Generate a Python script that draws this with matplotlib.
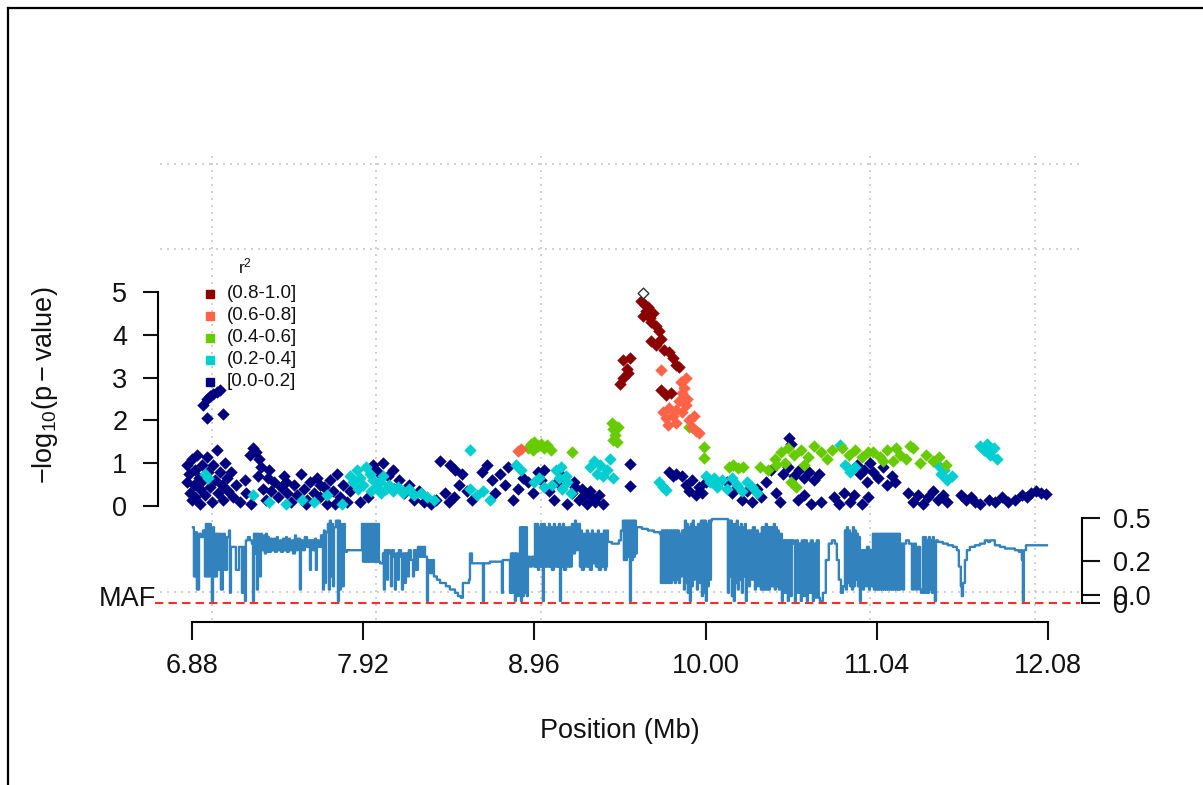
import matplotlib
matplotlib.use("Agg")
import matplotlib.pyplot as plt
from matplotlib.lines import Line2D
import numpy as np

W, H = 1203, 785

# r2 classes
r2_labels = ["(0.8-1.0]", "(0.6-0.8]", "(0.4-0.6]", "(0.2-0.4]", "[0.0-0.2]"]
r2_colors = ["#8B0000", "#FF6347", "#66CC00", "#00CED1", "#000080"]

# (position Mb, -log10 p) per r2 class
snp_navy = [
    (6.85, 0.95), (6.85, 0.55), (6.86, 0.75), (6.87, 0.30), (6.88, 1.10), (6.88, 0.15), (6.89, 0.50),
    (6.90, 0.85), (6.90, 0.20), (6.91, 1.20), (6.92, 0.65), (6.93, 0.40), (6.93, 0.05), (6.94, 0.95),
    (6.95, 0.60), (6.96, 0.25), (6.97, 1.15), (6.98, 0.80), (6.99, 0.45), (7.00, 0.10), (7.01, 0.95),
    (7.02, 0.60), (7.03, 1.30), (7.04, 0.30), (7.05, 0.80), (7.06, 0.50), (7.07, 0.15), (7.08, 1.00),
    (7.09, 0.65), (7.10, 0.35), (7.12, 0.80), (7.13, 0.20), (7.15, 0.50), (7.17, 0.10),
    (6.95, 2.35), (6.97, 2.50), (6.99, 2.58), (7.01, 2.62), (7.03, 2.66), (7.05, 2.70), (6.97, 2.05),
    (7.07, 2.15),
    (7.20, 0.60), (7.21, 0.30), (7.23, 1.20), (7.25, 1.35), (7.27, 1.25), (7.29, 1.10), (7.28, 0.70),
    (7.30, 0.90), (7.31, 0.40), (7.33, 0.15), (7.34, 0.65), (7.36, 0.35), (7.38, 0.55), (7.40, 0.20),
    (7.42, 0.45), (7.44, 0.70), (7.46, 0.30), (7.48, 0.10), (7.50, 0.50), (7.52, 0.25), (7.54, 0.75),
    (7.56, 0.40), (7.58, 0.15), (7.60, 0.55), (7.62, 0.30), (7.64, 0.65), (7.66, 0.20), (7.68, 0.45),
    (7.70, 0.05), (7.72, 0.60), (7.74, 0.35), (7.76, 0.75), (7.78, 0.20), (7.80, 0.50), (7.82, 0.10),
    (7.84, 0.35), (7.24, 0.05), (7.35, 0.85), (7.45, 0.55), (7.57, 0.05), (7.66, 0.50), (7.75, 0.05),
    (7.90, 0.10), (7.95, 0.20), (7.98, 0.95), (8.01, 0.80), (8.04, 1.00), (8.07, 0.70), (8.10, 0.85),
    (8.11, 0.40), (8.14, 0.60), (8.17, 0.30), (8.20, 0.50), (8.23, 0.15), (8.26, 0.35), (8.29, 0.10),
    (8.33, 0.05), (8.36, 0.15), (8.39, 1.05), (8.42, 0.30), (8.44, 0.10), (8.45, 0.95), (8.47, 0.20),
    (8.48, 0.85), (8.50, 0.50), (8.52, 0.75), (8.55, 0.35), (8.58, 0.15),
    (8.64, 0.80), (8.67, 0.95), (8.70, 0.60), (8.72, 0.30), (8.75, 0.75), (8.78, 0.50), (8.80, 0.90),
    (8.83, 0.15), (8.86, 0.40), (8.89, 0.65), (8.92, 0.55), (8.95, 0.30), (8.98, 0.80), (9.00, 0.60),
    (9.02, 0.85), (9.05, 0.35), (9.08, 0.15), (9.10, 0.55), (9.13, 0.70), (9.16, 0.05), (9.19, 0.30),
    (9.21, 0.45), (9.23, 0.15), (9.26, 0.25), (9.28, 0.05), (9.31, 0.20), (9.33, 0.10), (9.38, 0.05),
    (9.20, 0.55), (9.25, 0.40), (9.30, 0.35), (9.35, 0.25), (9.54, 0.99), (9.54, 0.47),
    (9.78, 0.80), (9.80, 0.70), (9.82, 0.75), (9.86, 0.70), (9.88, 0.50), (9.90, 0.35), (9.92, 0.60),
    (9.94, 0.25), (9.96, 0.45), (9.98, 0.30), (10.00, 0.55),
    (10.13, 0.55), (10.16, 0.30), (10.19, 0.45), (10.22, 0.15), (10.25, 0.35), (10.28, 0.10),
    (10.31, 0.40), (10.34, 0.20), (10.37, 0.55), (10.40, 0.85), (10.43, 0.30), (10.45, 0.10),
    (10.47, 0.75), (10.50, 0.90), (10.51, 1.60), (10.52, 1.45), (10.54, 0.70), (10.57, 0.85),
    (10.60, 0.65), (10.63, 0.80), (10.66, 0.60), (10.69, 0.75), (10.56, 0.15), (10.60, 0.25),
    (10.64, 0.05), (10.70, 0.10),
    (10.78, 0.20), (10.81, 0.05), (10.84, 0.30), (10.88, 0.10), (10.92, 0.95), (10.94, 0.75),
    (10.96, 0.85), (10.98, 0.55), (11.00, 1.00), (11.02, 0.80), (11.05, 0.65), (11.08, 0.90),
    (11.10, 0.50), (11.13, 0.70), (11.15, 0.55), (10.90, 0.25), (10.95, 0.05), (10.99, 0.20),
    (11.23, 0.30), (11.26, 0.10), (11.29, 0.25), (11.32, 0.05), (11.35, 0.20), (11.38, 0.35),
    (11.41, 0.15), (11.44, 0.25), (11.47, 0.10), (11.55, 0.25), (11.58, 0.15), (11.61, 0.20),
    (11.64, 0.10), (11.67, 0.05), (11.72, 0.15), (11.76, 0.10), (11.80, 0.20), (11.84, 0.10),
    (11.88, 0.15), (11.92, 0.25), (11.95, 0.20), (11.98, 0.30), (12.01, 0.35), (12.04, 0.30),
    (12.07, 0.28),
]
snp_cyan = [
    (6.96, 0.75), (6.98, 0.65), (7.25, 0.25), (7.35, 0.10), (7.45, 0.05), (7.55, 0.15), (7.62, 0.10),
    (7.70, 0.25), (7.79, 0.05),
    (7.84, 0.70), (7.86, 0.55), (7.88, 0.85), (7.90, 0.65), (7.92, 0.50), (7.94, 0.90), (7.96, 0.75),
    (7.98, 0.60), (8.00, 0.45), (8.02, 0.55), (8.04, 0.70), (8.06, 0.40), (8.08, 0.50), (8.10, 0.35),
    (8.13, 0.45), (8.16, 0.30), (8.20, 0.40), (8.23, 0.25), (8.27, 0.30), (8.31, 0.20), (8.35, 0.15),
    (7.89, 0.40), (7.97, 0.35), (8.03, 0.30),
    (8.57, 1.30), (8.57, 0.40), (8.61, 0.25), (8.65, 0.35), (8.69, 0.15), (8.85, 0.95), (8.88, 0.85),
    (8.96, 0.55), (8.99, 0.65), (9.02, 0.45), (9.07, 0.50), (9.09, 0.85), (9.11, 0.65), (9.13, 0.40),
    (9.16, 0.55), (9.18, 0.30), (9.12, 0.90), (9.15, 0.70),
    (9.30, 0.90), (9.32, 1.05), (9.34, 0.75), (9.36, 0.95), (9.38, 0.70), (9.40, 0.85), (9.42, 1.10),
    (9.44, 0.65), (9.72, 0.55), (9.74, 0.45), (9.76, 0.38),
    (10.00, 0.70), (10.03, 0.55), (10.05, 0.65), (10.07, 0.45), (10.10, 0.60), (10.13, 0.40),
    (10.16, 0.65), (10.19, 0.50), (10.22, 0.35), (10.25, 0.55), (10.28, 0.45), (10.31, 0.30),
    (10.82, 1.42), (10.85, 0.95), (10.88, 0.80), (10.91, 0.90),
    (11.41, 0.95), (11.43, 0.75), (11.45, 0.85), (11.47, 0.60), (11.50, 0.70),
    (11.67, 1.40), (11.69, 1.30), (11.71, 1.45), (11.73, 1.20), (11.75, 1.35), (11.77, 1.10),
]
snp_green = [
    (8.92, 1.35), (8.94, 1.45), (8.96, 1.50), (8.98, 1.40), (9.00, 1.45), (9.02, 1.35), (9.04, 1.42),
    (9.06, 1.30), (8.95, 1.30), (9.19, 1.27),
    (9.43, 1.95), (9.44, 1.80), (9.45, 1.65), (9.46, 1.50), (9.44, 1.55), (9.47, 1.85),
    (9.99, 1.38), (9.99, 1.11), (9.90, 1.85),
    (10.14, 0.90), (10.17, 0.95), (10.20, 0.88), (10.23, 0.92), (10.33, 0.90), (10.38, 0.85),
    (10.43, 0.95), (10.42, 1.10), (10.46, 1.25), (10.50, 1.35), (10.54, 1.20), (10.58, 1.30),
    (10.62, 1.15), (10.66, 1.40), (10.70, 1.25), (10.74, 1.10), (10.77, 1.30), (10.52, 0.55),
    (10.55, 0.45), (10.48, 1.00), (10.60, 0.95),
    (10.83, 1.35), (10.87, 1.20), (10.91, 1.30), (10.95, 1.15), (10.99, 1.25),
    (11.02, 1.25), (11.06, 1.15), (11.10, 1.30), (11.14, 1.05), (11.18, 1.20), (11.22, 1.10),
    (11.26, 1.35), (11.30, 1.00), (11.34, 1.20), (11.38, 1.05), (11.42, 1.15), (11.46, 0.95),
    (11.24, 1.40), (11.16, 1.35), (11.08, 1.05),
]
snp_coral = [
    (8.86, 1.28), (8.88, 1.33), (9.73, 3.18),
    (9.85, 2.90), (9.86, 2.65), (9.87, 2.75), (9.88, 3.00),
    (9.74, 2.20), (9.76, 2.05), (9.78, 2.30), (9.80, 2.10), (9.82, 1.95), (9.84, 2.45), (9.86, 2.20),
    (9.88, 2.35), (9.90, 2.00), (9.92, 1.85), (9.94, 1.75), (9.96, 1.70), (9.93, 2.10), (9.77, 1.90),
    (9.82, 2.25), (9.89, 2.50),
]
snp_darkred = [
    (9.61, 4.80), (9.63, 4.70), (9.64, 4.55), (9.62, 4.45), (9.65, 4.65), (9.66, 4.40), (9.67, 4.30),
    (9.68, 4.50), (9.70, 4.20), (9.72, 4.10),
    (9.67, 3.85), (9.70, 3.75), (9.73, 3.90), (9.75, 3.65),
    (9.78, 3.60), (9.80, 3.45), (9.82, 3.30), (9.84, 3.25),
    (9.50, 3.40), (9.52, 3.20), (9.54, 3.45), (9.50, 3.00), (9.48, 2.85), (9.53, 3.10),
    (9.73, 2.70), (9.76, 2.60), (9.79, 2.65),
]
lead_snp = (9.62, 4.97)

# minor allele frequency track (position Mb, MAF)
maf_track = [
    (6.886, .45), (6.892, .15), (6.904, .42), (6.910, .07), (6.923, .41), (6.935, .39), (6.947, .43),
    (6.959, .15), (6.965, .47), (6.971, .15), (6.977, .47), (6.983, .15), (6.989, .47), (6.995, .17),
    (7.001, .00), (7.008, .45), (7.014, .15), (7.020, .41), (7.026, .15), (7.032, .41), (7.038, .19),
    (7.044, .41), (7.056, .07), (7.068, .41), (7.080, .19), (7.093, .39), (7.105, .43), (7.111, .05),
    (7.117, .33), (7.135, .33), (7.147, .19), (7.166, .33), (7.184, .05), (7.190, .33), (7.202, .00),
    (7.208, .37), (7.220, .39), (7.232, .37), (7.244, .35), (7.251, .00), (7.257, .41), (7.263, .29),
    (7.269, .41), (7.275, .07), (7.281, .41), (7.287, .29), (7.293, .15), (7.299, .41), (7.305, .31),
    (7.317, .40), (7.323, .29), (7.330, .41), (7.336, .30), (7.342, .39), (7.348, .30), (7.360, .38),
    (7.366, .31), (7.378, .38), (7.384, .30), (7.396, .39), (7.402, .31), (7.415, .37), (7.421, .30),
    (7.433, .38), (7.439, .31), (7.451, .39), (7.457, .30), (7.469, .38), (7.475, .31), (7.488, .37),
    (7.494, .29), (7.506, .40), (7.512, .31), (7.524, .38), (7.536, .07), (7.542, .37), (7.554, .31),
    (7.566, .39), (7.579, .33), (7.591, .37), (7.597, .19), (7.603, .37), (7.615, .31), (7.627, .38),
    (7.633, .19), (7.639, .37), (7.651, .33), (7.664, .40), (7.676, .07), (7.682, .43), (7.688, .11),
    (7.694, .42), (7.706, .47), (7.712, .07), (7.718, .49), (7.724, .15), (7.730, .47), (7.737, .09),
    (7.743, .45), (7.755, .49), (7.767, .00), (7.773, .49), (7.779, .07), (7.785, .47), (7.791, .09),
    (7.803, .47), (7.809, .30), (7.822, .31),
    (7.913, .47), (7.919, .24), (7.925, .47), (7.931, .24), (7.937, .47), (7.943, .24), (7.949, .47),
    (7.955, .24), (7.961, .47), (7.967, .24), (7.973, .47), (7.980, .24), (7.986, .47), (7.992, .24),
    (7.998, .47), (8.004, .24), (8.010, .47), (8.016, .24), (8.022, .23),
    (8.040, .29), (8.046, .07), (8.052, .31), (8.065, .13), (8.071, .31), (8.083, .29), (8.089, .09),
    (8.095, .31), (8.107, .27), (8.113, .07), (8.119, .29), (8.131, .13), (8.137, .31), (8.150, .27),
    (8.156, .07), (8.162, .29), (8.174, .11), (8.180, .29), (8.192, .15), (8.198, .31), (8.210, .25),
    (8.223, .15), (8.229, .31), (8.241, .19), (8.253, .33), (8.259, .27), (8.265, .33), (8.271, .27),
    (8.277, .33), (8.283, .27), (8.289, .33), (8.296, .27), (8.308, .00), (8.314, .25), (8.326, .17),
    (8.338, .25), (8.350, .15), (8.368, .13), (8.387, .11), (8.405, .11), (8.423, .09), (8.435, .09),
    (8.447, .07), (8.466, .07), (8.478, .05), (8.496, .03), (8.514, .02), (8.526, .11), (8.544, .11),
    (8.563, .13), (8.569, .29), (8.581, .23), (8.605, .23), (8.648, .00), (8.654, .23), (8.690, .24),
    (8.727, .24), (8.763, .05), (8.769, .25), (8.793, .25), (8.812, .05), (8.818, .29), (8.824, .05),
    (8.830, .29), (8.842, .00), (8.848, .29), (8.860, .03), (8.866, .27), (8.873, .45), (8.879, .00),
    (8.885, .45), (8.891, .03), (8.897, .45), (8.903, .05), (8.909, .45), (8.915, .03), (8.921, .27),
    (8.933, .21), (8.945, .27), (8.958, .21), (8.964, .47), (8.970, .21), (8.976, .47), (8.982, .19),
    (8.988, .45), (8.994, .21), (9.000, .47), (9.006, .21), (9.012, .00), (9.018, .47), (9.024, .21),
    (9.030, .45), (9.036, .21), (9.049, .47), (9.055, .21), (9.061, .45), (9.067, .19), (9.079, .47),
    (9.085, .21), (9.097, .45), (9.103, .21), (9.109, .47), (9.116, .00), (9.122, .45), (9.128, .21),
    (9.134, .47), (9.140, .19), (9.152, .45), (9.158, .21), (9.170, .45), (9.176, .21), (9.188, .47),
    (9.194, .29), (9.207, .49), (9.213, .31), (9.225, .47), (9.237, .21), (9.243, .43), (9.249, .19),
    (9.261, .41), (9.267, .21), (9.279, .43), (9.286, .21), (9.292, .41), (9.298, .19), (9.310, .43),
    (9.316, .23), (9.328, .41), (9.334, .21), (9.346, .43), (9.352, .19), (9.365, .41), (9.371, .21),
    (9.383, .43), (9.389, .19), (9.395, .21), (9.401, .43),
    (9.407, .36), (9.431, .35), (9.456, .35), (9.474, .37), (9.486, .43), (9.498, .49),
    (9.504, .25), (9.510, .49), (9.516, .25), (9.522, .49), (9.528, .27), (9.534, .49), (9.541, .00),
    (9.547, .49), (9.553, .25), (9.559, .49), (9.565, .27), (9.571, .49), (9.577, .29), (9.583, .45),
    (9.614, .44), (9.650, .43), (9.687, .42), (9.723, .41),
    (9.729, .11), (9.735, .43), (9.741, .11), (9.747, .43), (9.753, .11), (9.759, .43), (9.765, .11),
    (9.771, .43), (9.777, .11), (9.784, .43), (9.790, .11), (9.796, .43), (9.802, .13), (9.808, .43),
    (9.814, .11), (9.820, .43), (9.826, .13), (9.832, .43), (9.838, .11), (9.845, .41), (9.851, .15),
    (9.857, .43),
    (9.869, .07), (9.875, .49), (9.881, .11), (9.887, .47), (9.893, .05), (9.899, .45), (9.905, .00),
    (9.911, .47), (9.917, .09), (9.923, .49), (9.929, .13), (9.935, .45), (9.948, .07), (9.954, .47),
    (9.966, .11), (9.972, .49), (9.978, .03), (9.984, .49), (9.990, .05), (9.996, .49), (10.002, .00),
    (10.008, .47), (10.014, .09), (10.020, .49), (10.027, .13), (10.033, .49), (10.039, .50),
    (10.130, .50),
    (10.136, .05), (10.142, .49), (10.148, .15), (10.154, .49), (10.160, .03), (10.166, .47),
    (10.172, .00), (10.178, .47), (10.184, .11), (10.190, .49), (10.196, .07), (10.202, .45),
    (10.209, .13), (10.215, .47), (10.221, .05), (10.227, .45), (10.233, .15), (10.239, .47),
    (10.245, .00), (10.251, .43), (10.263, .09), (10.270, .43), (10.282, .13), (10.288, .45),
    (10.300, .07), (10.306, .43), (10.318, .09), (10.324, .41), (10.336, .07), (10.342, .45),
    (10.348, .07), (10.354, .45), (10.360, .07), (10.366, .47), (10.373, .07), (10.379, .45),
    (10.385, .07), (10.391, .45), (10.397, .09), (10.403, .45), (10.409, .09), (10.415, .47),
    (10.421, .07), (10.427, .45), (10.433, .09), (10.439, .43), (10.445, .07), (10.452, .41),
    (10.464, .00), (10.470, .37), (10.482, .05), (10.488, .37), (10.500, .00), (10.506, .37),
    (10.518, .03), (10.524, .37), (10.537, .35), (10.543, .00), (10.549, .37), (10.561, .05),
    (10.567, .35), (10.579, .00), (10.585, .37), (10.597, .03), (10.603, .37), (10.616, .00),
    (10.622, .35), (10.634, .05), (10.640, .37), (10.652, .00), (10.658, .35), (10.670, .02),
    (10.676, .37), (10.688, .02), (10.695, .00),
    (10.713, .05), (10.731, .25), (10.749, .35), (10.768, .37), (10.786, .35), (10.798, .25),
    (10.810, .13), (10.823, .05), (10.835, .09),
    (10.847, .43), (10.853, .07), (10.859, .45), (10.865, .11), (10.871, .43), (10.878, .09),
    (10.884, .41), (10.890, .07), (10.896, .45), (10.902, .09), (10.908, .43), (10.914, .13),
    (10.920, .41), (10.926, .09), (10.932, .39), (10.938, .00), (10.944, .31), (10.957, .07),
    (10.963, .31), (10.975, .09), (10.981, .33), (10.993, .07), (10.999, .31), (11.011, .09),
    (11.017, .41), (11.023, .07), (11.029, .41), (11.035, .07), (11.041, .41), (11.047, .07),
    (11.053, .41), (11.060, .07), (11.066, .41), (11.072, .07), (11.078, .41), (11.084, .07),
    (11.090, .41), (11.096, .07), (11.102, .41), (11.108, .07), (11.114, .41), (11.121, .07),
    (11.127, .41), (11.133, .07), (11.139, .41), (11.145, .07), (11.151, .41), (11.157, .07),
    (11.163, .41), (11.169, .07), (11.175, .41), (11.181, .07),
    (11.187, .35), (11.200, .07), (11.206, .35), (11.218, .37), (11.236, .35), (11.254, .07),
    (11.266, .35), (11.278, .07), (11.290, .33), (11.303, .07), (11.309, .05),
    (11.321, .39), (11.327, .05), (11.333, .39), (11.339, .05), (11.345, .37), (11.351, .05),
    (11.357, .39), (11.363, .07), (11.369, .37), (11.375, .05), (11.381, .39), (11.387, .05),
    (11.393, .00), (11.400, .37),
    (11.412, .36), (11.442, .35), (11.472, .34), (11.503, .33), (11.527, .31), (11.539, .21),
    (11.551, .09), (11.557, .03), (11.564, .11), (11.576, .25), (11.588, .31), (11.606, .33),
    (11.637, .34), (11.667, .35), (11.697, .37), (11.716, .36), (11.728, .37), (11.758, .34),
    (11.789, .33), (11.819, .32), (11.849, .32), (11.880, .31), (11.904, .30), (11.916, .31),
    (11.922, .25), (11.928, .00), (11.934, .31), (11.947, .34), (12.001, .34), (12.074, .34),
]

x_ticks = [6.88, 7.92, 8.96, 10.00, 11.04, 12.08]
y_ticks = [0, 1, 2, 3, 4, 5]
maf_tick_labels = ["0.5", "0.2", "0.0", "0"]

plt.rcParams["font.family"] = ["Liberation Sans", "DejaVu Sans"]
plt.rcParams["mathtext.fontset"] = "custom"
plt.rcParams["mathtext.rm"] = "Liberation Sans"
plt.rcParams["mathtext.it"] = "Liberation Sans:italic"
plt.rcParams["mathtext.bf"] = "Liberation Sans:bold"

# MAF drawn in the strip below the association panel
MAF_BASE = -2.22
MAF_SCALE = 3.83
maf_tick_y = [-0.28, -1.29, -2.08, -2.27]
FS = 19.5

fig = plt.figure(figsize=(W / 100, H / 100), dpi=100)
ax = fig.add_axes([160 / W, 1 - 620 / H, 920 / W, 465 / H])
ax.set_xlim(6.686, 12.275)
ax.set_ylim(-2.664, 8.201)

# grid
ax.set_xticks(range(7, 13), minor=True)
ax.set_yticks(range(-2, 9, 2), minor=True)
ax.grid(which="minor", color="#C8C8C8", linestyle=(0, (1.2, 3)), linewidth=1.2)
ax.set_axisbelow(True)

# MAF track
mp = np.array([p for p, v in maf_track])
mv = np.array([v for p, v in maf_track])
ax.plot(mp, MAF_BASE + mv * MAF_SCALE, drawstyle="steps-post", color="#3182BD", lw=1.7)
ax.plot([6.655, 12.275], [MAF_BASE - 0.05, MAF_BASE - 0.05], color="#FF2A2A",
        linestyle=(0, (4, 2.5)), lw=1.5, clip_on=False)

# association points
for pts, col in [(snp_navy, r2_colors[4]), (snp_cyan, r2_colors[3]), (snp_green, r2_colors[2]),
                 (snp_coral, r2_colors[1]), (snp_darkred, r2_colors[0])]:
    ax.scatter([p for p, v in pts], [v for p, v in pts], marker="D", s=40, c=col, linewidths=0)
ax.scatter([lead_snp[0]], [lead_snp[1]], marker="D", s=30, facecolors="white",
           edgecolors="#333333", linewidths=1.0, zorder=5)

# axes
for s in ["top", "right"]:
    ax.spines[s].set_visible(False)
ax.spines["left"].set_position(("outward", 1.5))
ax.spines["left"].set_bounds(0, 5)
ax.spines["bottom"].set_position(("outward", 1.5))
ax.spines["bottom"].set_bounds(6.88, 12.08)
for s in ["left", "bottom"]:
    ax.spines[s].set_linewidth(1.5)
ax.set_xticks(x_ticks)
ax.set_xticklabels(["%.2f" % t for t in x_ticks])
ax.set_yticks(y_ticks)
ax.tick_params(which="minor", length=0)
ax.tick_params(axis="x", which="major", length=13, width=1.5, pad=9, labelsize=FS, colors="#111111")
ax.tick_params(axis="y", which="major", length=11, width=1.5, pad=11, labelsize=FS, colors="#111111")

ax2 = ax.twinx()
ax2.set_ylim(ax.get_ylim())
for s in ["top", "left", "bottom"]:
    ax2.spines[s].set_visible(False)
ax2.spines["right"].set_position(("outward", 1.5))
ax2.spines["right"].set_bounds(maf_tick_y[-1], maf_tick_y[0])
ax2.spines["right"].set_linewidth(1.5)
ax2.set_yticks(maf_tick_y)
ax2.set_yticklabels(maf_tick_labels)
ax2.tick_params(axis="y", length=13, width=1.5, pad=9, labelsize=FS, colors="#111111")

# labels
fig.text(620 / W, 1 - 731 / H, "Position (Mb)", ha="center", va="center", fontsize=FS, color="#111111")
fig.text(45 / W, 1 - 385 / H, r"$-\mathrm{log}_{10}(\mathrm{p}-\mathrm{value})$", rotation=90,
         ha="center", va="center", fontsize=FS, color="#111111")
fig.text(156 / W, 1 - 599 / H, "MAF", ha="right", va="center", fontsize=FS, color="#111111")

# legend
fig.text(245 / W, 1 - 266 / H, r"r$^2$", ha="center", va="center", fontsize=12.5, color="#111111")
for i, (lab, col) in enumerate(zip(r2_labels, r2_colors)):
    yy = 1 - (294 + 22 * i) / H
    fig.add_artist(Line2D([210 / W], [yy], marker="s", markersize=6, color=col, linestyle="none"))
    fig.text(227 / W, yy, lab, ha="left", va="center", fontsize=13.5, color="#111111")

# outer frame
fig.add_artist(Line2D([8 / W, 8 / W], [0, 1 - 8 / H], color="black", lw=1.6))
fig.add_artist(Line2D([8 / W, 1], [1 - 8 / H, 1 - 8 / H], color="black", lw=1.6))

fig.savefig("out.png", dpi=100)
